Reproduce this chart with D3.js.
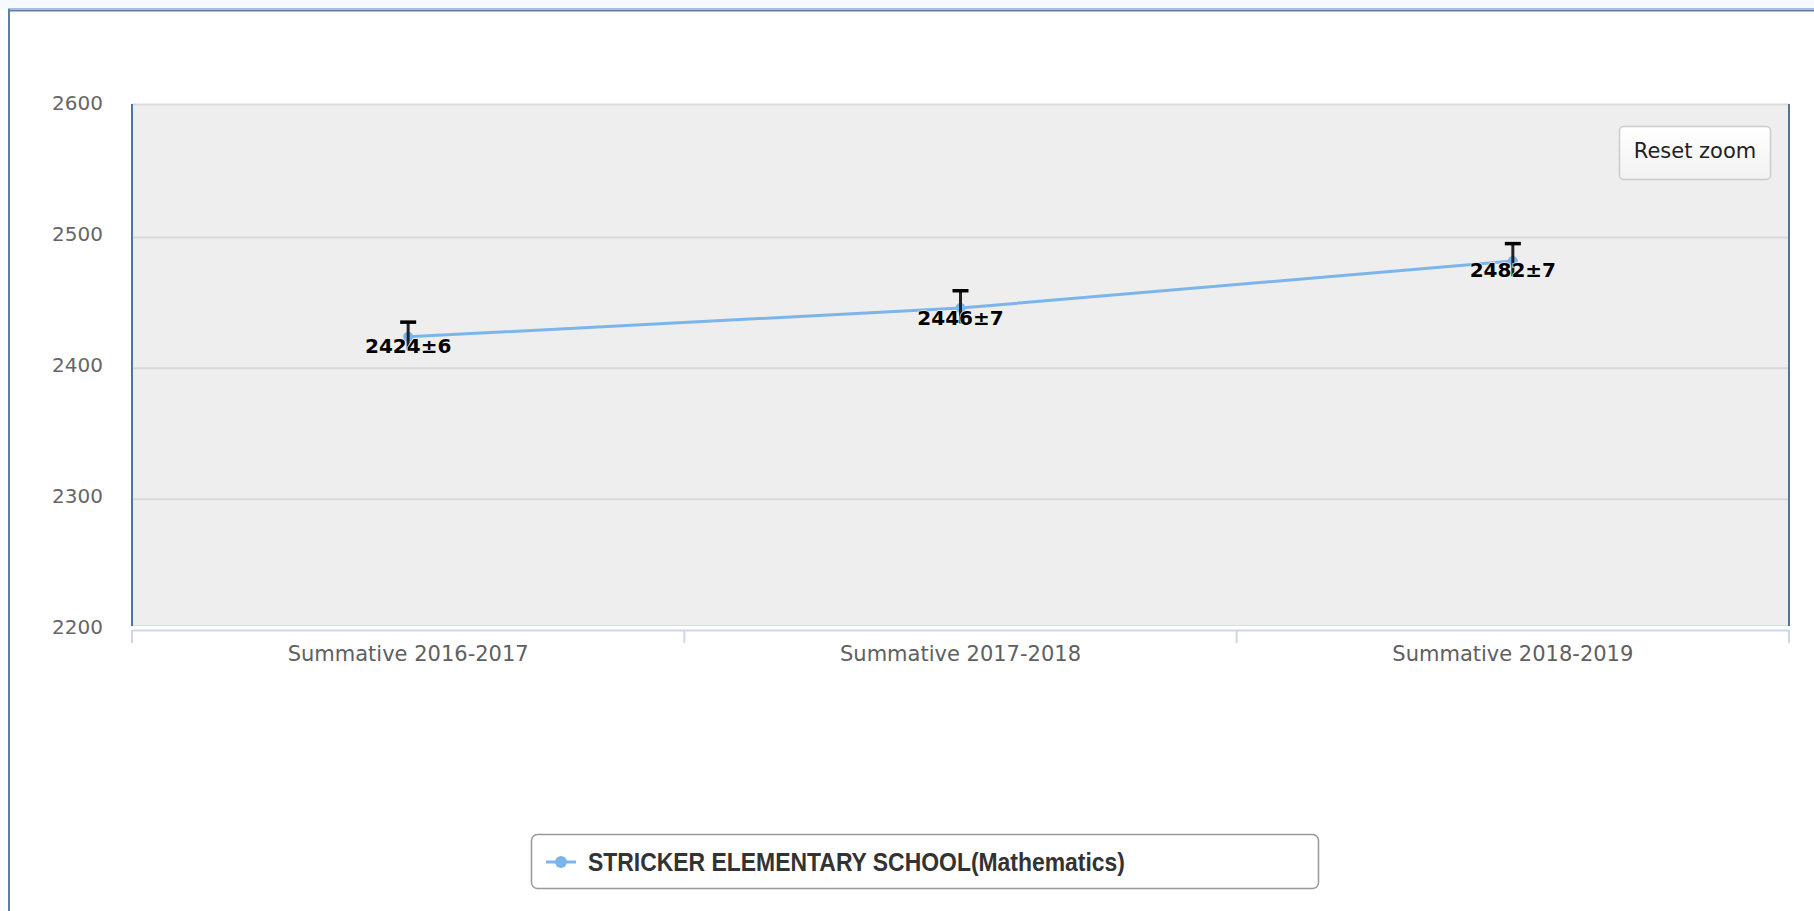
<!DOCTYPE html>
<html>
<head>
<meta charset="utf-8">
<script src="https://cdn.jsdelivr.net/npm/d3@7"></script>
<style>
  html, body { margin: 0; padding: 0; background: #ffffff; }
  svg { display: block; }
</style>
</head>
<body>
<svg id="chart" width="1814" height="911"></svg>
<script>
// ---- data ----
const categories = ["Summative 2016-2017", "Summative 2017-2018", "Summative 2018-2019"];
const scores = [2424, 2446, 2482];
const errors = [6, 7, 7];
const errorLow = [2412, 2432, 2468];
const errorHigh = [2436, 2460, 2496];
const yTicks = [2200, 2300, 2400, 2500, 2600];
const seriesName = "STRICKER ELEMENTARY SCHOOL(Mathematics)";

const svg = d3.select("#chart");
const W = 1814, H = 911;

// outer frame
svg.append("rect").attr("x", 0).attr("y", 0).attr("width", W).attr("height", 9).attr("fill", "#f4faff");
svg.append("line").attr("x1", 8).attr("x2", W).attr("y1", 8.5).attr("y2", 8.5).attr("stroke", "#a9bdd3").attr("stroke-width", 1);
svg.append("line").attr("x1", 8).attr("x2", W).attr("y1", 10.5).attr("y2", 10.5).attr("stroke", "#5d7fa6").attr("stroke-width", 2);
svg.append("line").attr("x1", 9).attr("x2", 9).attr("y1", 9).attr("y2", H).attr("stroke", "#5d7fa6").attr("stroke-width", 2);

const plot = { left: 132, right: 1789, top: 104, bottom: 630 };

const x = d3.scaleBand().domain(categories).range([plot.left, plot.right]).paddingInner(0).paddingOuter(0);
const y = d3.scaleLinear().domain([2200, 2600]).range([630, 106.5]);

// plot background
svg.append("rect")
  .attr("x", plot.left).attr("y", plot.top)
  .attr("width", plot.right - plot.left).attr("height", 625 - plot.top)
  .attr("fill", "#eeeeee");
svg.append("line").attr("x1", plot.left).attr("x2", plot.right).attr("y1", plot.top + 0.5).attr("y2", plot.top + 0.5)
  .attr("stroke", "#dcdcdc").attr("stroke-width", 2);

// grid lines
svg.append("g").selectAll("line").data(yTicks.filter(d => d > 2200 && d < 2600)).join("line")
  .attr("x1", plot.left).attr("x2", plot.right)
  .attr("y1", d => y(d)).attr("y2", d => y(d))
  .attr("stroke", "#d9d9d9").attr("stroke-width", 2);

// x axis
const xAxis = d3.axisBottom(x).tickSize(0).tickFormat(d => d);
const gx = svg.append("g").attr("transform", `translate(0,${plot.bottom})`).call(xAxis);
gx.select(".domain").attr("stroke", "#ccd6eb").attr("stroke-width", 2);
gx.selectAll("text")
  .attr("dy", null).attr("y", 31)
  .attr("fill", "#606060")
  .style("font-family", "'DejaVu Sans', Verdana, sans-serif")
  .style("font-size", "21px");
// x tick marks at band boundaries
const bounds = categories.map(c => x(c)).concat([plot.right]);
svg.append("g").selectAll("line").data(bounds).join("line")
  .attr("x1", d => d).attr("x2", d => d)
  .attr("y1", 630).attr("y2", 643)
  .attr("stroke", "#ccd6eb").attr("stroke-width", 2);
svg.append("line").attr("x1", plot.left).attr("x2", plot.right).attr("y1", 625.5).attr("y2", 625.5)
  .attr("stroke", "#d4dce8").attr("stroke-width", 1);

// y axis
const yAxis = d3.axisLeft(y).tickValues(yTicks).tickSize(0).tickPadding(29).tickFormat(d3.format("d"));
const gy = svg.append("g").attr("transform", `translate(${plot.left},0)`).call(yAxis);
gy.select(".domain").remove();
gy.selectAll("text")
  .attr("dy", "0.32em").attr("y", -3)
  .attr("fill", "#666666")
  .style("font-family", "'DejaVu Sans', Verdana, sans-serif")
  .style("font-size", "20px");

// plot side lines
svg.append("line").attr("x1", plot.left).attr("x2", plot.left).attr("y1", plot.top).attr("y2", 626)
  .attr("stroke", "#4f74a0").attr("stroke-width", 2);
svg.append("line").attr("x1", plot.right).attr("x2", plot.right).attr("y1", plot.top).attr("y2", 626)
  .attr("stroke", "#4f74a0").attr("stroke-width", 2);

// series line
const pts = categories.map((c, i) => ({ c, v: scores[i], e: errors[i], lo: errorLow[i], hi: errorHigh[i] }));
const cx = d => x(d.c) + x.bandwidth() / 2;
svg.append("path")
  .datum(pts)
  .attr("d", d3.line().x(cx).y(d => y(d.v)))
  .attr("fill", "none").attr("stroke", "#7cb5ec").attr("stroke-width", 3);
svg.append("g").selectAll("circle").data(pts).join("circle")
  .attr("cx", cx).attr("cy", d => y(d.v)).attr("r", 5).attr("fill", "#7cb5ec");

// error bars (upper whisker visible; lower part sits under the label)
const eb = svg.append("g").attr("stroke", "#000");
pts.forEach(d => {
  eb.append("line").attr("x1", cx(d)).attr("x2", cx(d)).attr("y1", y(d.hi)).attr("y2", y(d.lo) - 3)
    .attr("stroke-width", 3).attr("stroke", "#222");
  eb.append("line").attr("x1", cx(d) - 8).attr("x2", cx(d) + 8).attr("y1", y(d.hi) + 1).attr("y2", y(d.hi) + 1)
    .attr("stroke-width", 3.5);
});

// data labels
svg.append("g").selectAll("text").data(pts).join("text")
  .attr("x", cx).attr("y", d => y(d.v) + 16.5)
  .attr("text-anchor", "middle")
  .style("font-family", "'DejaVu Sans', Verdana, sans-serif")
  .style("font-size", "20px").style("font-weight", "bold")
  .attr("fill", "#000")
  .attr("stroke", "#eeeeee").attr("stroke-width", 1.5).attr("paint-order", "stroke")
  .text(d => `${d.v}±${d.e}`);

// reset zoom button
const btn = svg.append("g");
const bg = svg.append("defs").append("linearGradient").attr("id", "btng").attr("x1", 0).attr("y1", 0).attr("x2", 0).attr("y2", 1);
bg.append("stop").attr("offset", "0%").attr("stop-color", "#ffffff");
bg.append("stop").attr("offset", "100%").attr("stop-color", "#f2f2f2");
btn.append("rect").attr("x", 1619.5).attr("y", 126.5).attr("width", 151).attr("height", 53).attr("rx", 4)
  .attr("fill", "url(#btng)").attr("stroke", "#cccccc").attr("stroke-width", 1.5);
btn.append("text").attr("x", 1695).attr("y", 158).attr("text-anchor", "middle")
  .style("font-family", "'DejaVu Sans', Verdana, sans-serif").style("font-size", "21px")
  .attr("fill", "#222").text("Reset zoom");

// legend
const lg = svg.append("g");
lg.append("rect").attr("x", 531.5).attr("y", 834.5).attr("width", 787).attr("height", 54).attr("rx", 6)
  .attr("fill", "#ffffff").attr("stroke", "#999999").attr("stroke-width", 1.5);
lg.append("line").attr("x1", 546).attr("x2", 576).attr("y1", 862).attr("y2", 862)
  .attr("stroke", "#7cb5ec").attr("stroke-width", 3);
lg.append("circle").attr("cx", 561).attr("cy", 862).attr("r", 6).attr("fill", "#7cb5ec");
lg.append("text").attr("x", 588).attr("y", 871)
  .style("font-family", "'Liberation Sans Narrow', 'Arial Narrow', 'Liberation Sans', sans-serif")
  .style("font-size", "26px").style("font-weight", "bold")
  .attr("textLength", 537).attr("lengthAdjust", "spacingAndGlyphs")
  .attr("fill", "#333333").text(seriesName);
</script>
</body>
</html>
